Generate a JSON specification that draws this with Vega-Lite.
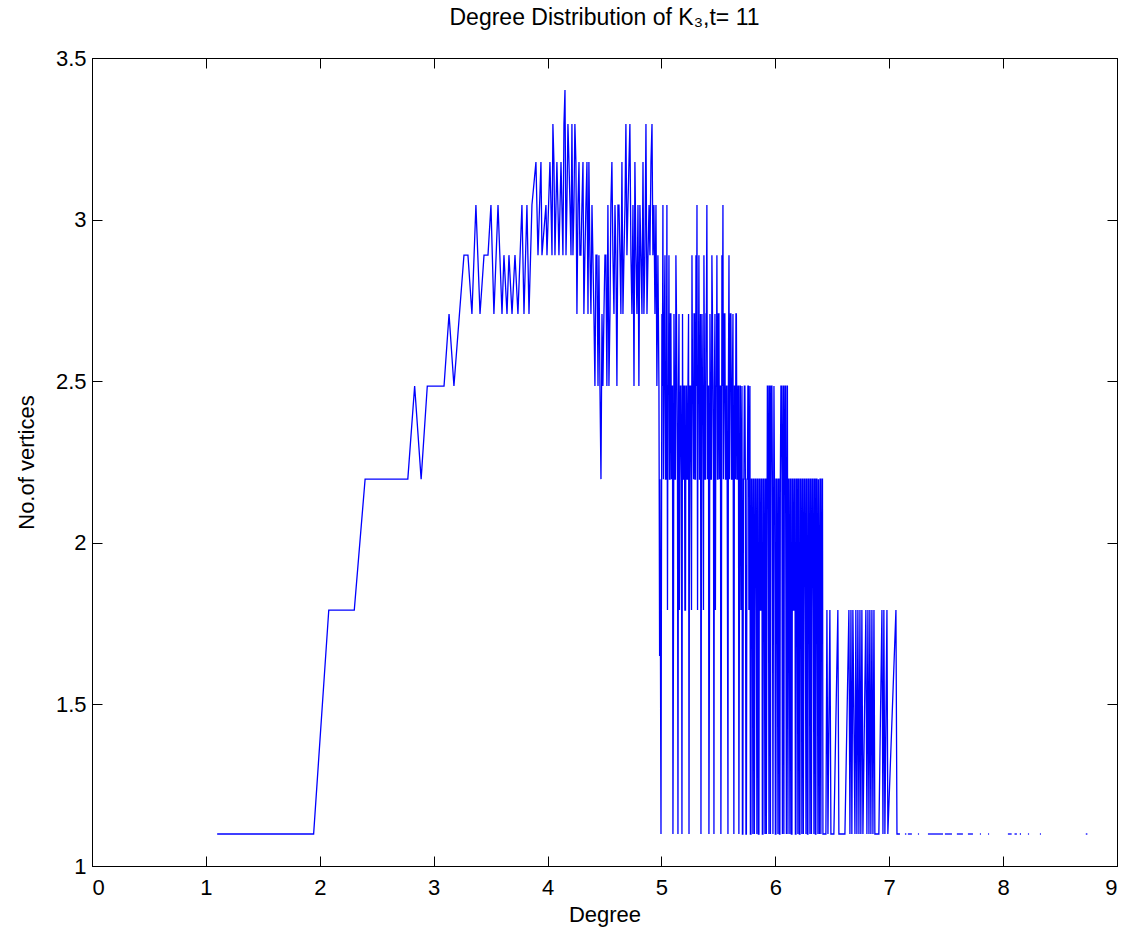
{
  "$schema": "https://vega.github.io/schema/vega-lite/v6.json",
  "width": 1025,
  "height": 808,
  "autosize": {"type": "none"},
  "padding": {"left": 92, "top": 58, "right": 9, "bottom": 67},
  "background": "#ffffff",
  "title": {"text": "Degree Distribution of K₃,t= 11", "font": "Liberation Sans", "fontSize": 23, "fontWeight": "normal", "color": "#000000", "anchor": "middle", "offset": 17},
  "config": {
    "view": {"stroke": "#000000", "strokeWidth": 1},
    "axis": {"grid": false, "domainColor": "#000000", "domainWidth": 1, "tickColor": "#000000", "tickSize": -10, "tickWidth": 1, "labelFont": "Liberation Sans", "labelFontSize": 22, "labelColor": "#000000", "titleFont": "Liberation Sans", "titleFontSize": 22, "titleFontWeight": "normal", "titleColor": "#000000"}
  },
  "datasets": {
    "deg": [
      {"x":1.099,"y":1.099,"g":0},{"x":1.946,"y":1.099,"g":0},{"x":2.079,"y":1.792,"g":0},{"x":2.303,"y":1.792,"g":0},{"x":2.398,"y":2.197,"g":0},{"x":2.773,"y":2.197,"g":0},{"x":2.833,"y":2.485,"g":0},{"x":2.890,"y":2.197,"g":0},{"x":2.944,"y":2.485,"g":0},{"x":3.091,"y":2.485,"g":0},{"x":3.135,"y":2.708,"g":0},{"x":3.178,"y":2.485,"g":0},
      {"x":3.266,"y":2.890,"g":0},{"x":3.301,"y":2.890,"g":0},{"x":3.336,"y":2.708,"g":0},{"x":3.371,"y":3.045,"g":0},{"x":3.407,"y":2.708,"g":0},{"x":3.442,"y":2.890,"g":0},{"x":3.477,"y":2.890,"g":0},{"x":3.503,"y":3.045,"g":0},{"x":3.529,"y":2.708,"g":0},{"x":3.565,"y":3.045,"g":0},{"x":3.600,"y":2.708,"g":0},{"x":3.617,"y":2.890,"g":0},{"x":3.644,"y":2.708,"g":0},{"x":3.661,"y":2.890,"g":0},{"x":3.688,"y":2.708,"g":0},{"x":3.714,"y":2.890,"g":0},{"x":3.740,"y":2.708,"g":0},{"x":3.775,"y":3.045,"g":0},{"x":3.793,"y":2.708,"g":0},{"x":3.819,"y":3.045,"g":0},{"x":3.837,"y":2.708,"g":0},{"x":3.863,"y":3.045,"g":0},{"x":3.898,"y":3.178,"g":0},{"x":3.916,"y":2.890,"g":0},
      {"x":3.942,"y":3.178,"g":0},{"x":3.951,"y":2.890,"g":0},{"x":3.986,"y":3.045,"g":0},{"x":3.995,"y":2.890,"g":0},{"x":4.021,"y":3.178,"g":0},{"x":4.039,"y":2.890,"g":0},{"x":4.047,"y":3.296,"g":0},{"x":4.065,"y":2.890,"g":0},{"x":4.082,"y":3.178,"g":0},{"x":4.091,"y":3.045,"g":0},{"x":4.118,"y":3.178,"g":0},{"x":4.135,"y":2.890,"g":0},{"x":4.153,"y":3.401,"g":0},{"x":4.170,"y":3.045,"g":0},{"x":4.188,"y":3.178,"g":0},{"x":4.206,"y":2.890,"g":0},{"x":4.214,"y":3.296,"g":0},{"x":4.232,"y":3.045,"g":0},{"x":4.249,"y":3.178,"g":0},{"x":4.258,"y":2.708,"g":0},{"x":4.276,"y":3.178,"g":0},{"x":4.293,"y":2.890,"g":0},{"x":4.311,"y":3.178,"g":0},{"x":4.319,"y":2.708,"g":0},{"x":4.337,"y":3.045,"g":0},{"x":4.355,"y":2.708,"g":0},{"x":4.363,"y":3.178,"g":0},{"x":4.381,"y":2.708,"g":0},{"x":4.398,"y":2.890,"g":0},{"x":4.416,"y":2.485,"g":0},{"x":4.425,"y":2.890,"g":0},{"x":4.443,"y":2.485,"g":0},{"x":4.451,"y":2.890,"g":0},{"x":4.469,"y":2.197,"g":0},{"x":4.478,"y":2.708,"g":0},{"x":4.486,"y":2.485,"g":0},{"x":4.504,"y":2.890,"g":0},{"x":4.521,"y":2.485,"g":0},{"x":4.530,"y":3.045,"g":0},{"x":4.548,"y":2.708,"g":0},{"x":4.565,"y":3.178,"g":0},{"x":4.574,"y":2.890,"g":0},{"x":4.592,"y":3.045,"g":0},{"x":4.609,"y":2.485,"g":0},{"x":4.618,"y":3.045,"g":0},{"x":4.636,"y":2.890,"g":0},{"x":4.653,"y":3.178,"g":0},{"x":4.662,"y":2.708,"g":0},{"x":4.680,"y":3.045,"g":0},{"x":4.688,"y":3.296,"g":0},{"x":4.697,"y":2.890,"g":0},{"x":4.715,"y":3.178,"g":0},{"x":4.723,"y":3.296,"g":0},{"x":4.732,"y":2.890,"g":0},{"x":4.750,"y":3.045,"g":0},{"x":4.759,"y":2.485,"g":0},{"x":4.767,"y":3.178,"g":0},{"x":4.785,"y":2.708,"g":0},{"x":4.794,"y":3.045,"g":0},{"x":4.802,"y":2.485,"g":0},{"x":4.820,"y":2.890,"g":0},{"x":4.829,"y":2.708,"g":0},{"x":4.838,"y":3.178,"g":0},{"x":4.855,"y":2.890,"g":0},{"x":4.864,"y":3.296,"g":0},{"x":4.873,"y":2.708,"g":0},{"x":4.891,"y":3.045,"g":0},{"x":4.899,"y":2.890,"g":0},{"x":4.908,"y":3.178,"g":0},{"x":4.917,"y":3.296,"g":0},{"x":4.925,"y":2.890,"g":0},{"x":4.934,"y":3.045,"g":0},{"x":4.943,"y":2.708,"g":0},{"x":4.952,"y":3.045,"g":0},{"x":4.960,"y":2.485,"g":0},{"x":4.969,"y":2.890,"g":0},{"x":4.978,"y":2.485,"g":0},{"x":4.984,"y":1.650,"g":0},{"x":4.987,"y":2.197,"g":0},{"x":4.996,"y":1.099,"g":0},
      {"x":4.030,"y":3.045,"g":0},{"x":4.056,"y":3.178,"g":0},{"x":4.100,"y":2.890,"g":0},{"x":4.126,"y":3.045,"g":0},{"x":4.144,"y":3.296,"g":0},{"x":4.162,"y":2.890,"g":0},{"x":4.179,"y":3.296,"g":0},{"x":4.197,"y":3.045,"g":0},{"x":4.223,"y":2.890,"g":0},{"x":4.240,"y":3.296,"g":0},{"x":4.267,"y":3.045,"g":0},{"x":4.284,"y":2.890,"g":0},{"x":4.302,"y":3.045,"g":0},{"x":4.328,"y":2.890,"g":0},{"x":4.346,"y":3.178,"g":0},{"x":4.372,"y":2.890,"g":0},{"x":4.390,"y":3.045,"g":0},
      {"x":4.407,"y":2.708,"g":0},{"x":4.434,"y":2.890,"g":0},{"x":4.460,"y":2.485,"g":0},{"x":4.495,"y":2.708,"g":0},{"x":4.512,"y":2.890,"g":0},{"x":4.539,"y":2.485,"g":0},
      {"x":4.556,"y":3.045,"g":0},{"x":4.583,"y":2.708,"g":0},{"x":4.600,"y":2.890,"g":0},{"x":4.627,"y":3.045,"g":0},{"x":4.644,"y":2.708,"g":0},{"x":4.671,"y":2.890,"g":0},{"x":4.706,"y":3.045,"g":0},{"x":4.741,"y":2.708,"g":0},{"x":4.776,"y":2.890,"g":0},{"x":4.811,"y":3.045,"g":0},{"x":4.846,"y":2.708,"g":0},{"x":4.882,"y":2.890,"g":0},
      {"x":5.004,"y":2.708,"g":0},{"x":5.013,"y":3.045,"g":0},{"x":5.022,"y":2.485,"g":0},{"x":5.031,"y":2.890,"g":0},{"x":5.040,"y":2.197,"g":0},{"x":5.048,"y":3.045,"g":0},{"x":5.057,"y":2.485,"g":0},{"x":5.066,"y":2.890,"g":0},{"x":5.075,"y":2.197,"g":0},{"x":5.083,"y":2.708,"g":0},{"x":5.092,"y":2.485,"g":0},{"x":5.101,"y":1.099,"g":0},{"x":5.110,"y":2.708,"g":0},{"x":5.119,"y":2.197,"g":0},{"x":5.127,"y":2.890,"g":0},{"x":5.136,"y":2.485,"g":0},{"x":5.145,"y":1.099,"g":0},{"x":5.154,"y":2.708,"g":0},{"x":5.162,"y":2.197,"g":0},{"x":5.171,"y":2.485,"g":0},{"x":5.180,"y":1.099,"g":0},{"x":5.189,"y":2.197,"g":0},{"x":5.198,"y":2.485,"g":0},{"x":5.206,"y":1.792,"g":0},{"x":5.215,"y":2.485,"g":0},{"x":5.224,"y":2.197,"g":0},{"x":5.233,"y":2.485,"g":0},{"x":5.242,"y":1.099,"g":0},{"x":5.250,"y":2.485,"g":0},{"x":5.259,"y":2.197,"g":0},{"x":5.268,"y":2.890,"g":0},{"x":5.277,"y":2.485,"g":0},{"x":5.286,"y":2.708,"g":0},{"x":5.294,"y":2.197,"g":0},{"x":5.303,"y":2.890,"g":0},{"x":5.312,"y":3.045,"g":0},{"x":5.321,"y":2.485,"g":0},{"x":5.329,"y":2.890,"g":0},{"x":5.338,"y":2.197,"g":0},{"x":5.347,"y":1.099,"g":0},{"x":5.356,"y":2.708,"g":0},{"x":5.364,"y":2.485,"g":0},{"x":5.373,"y":2.890,"g":0},{"x":5.382,"y":2.197,"g":0},{"x":5.391,"y":2.708,"g":0},{"x":5.399,"y":3.045,"g":0},{"x":5.408,"y":2.485,"g":0},{"x":5.417,"y":1.099,"g":0},{"x":5.426,"y":2.708,"g":0},{"x":5.435,"y":2.197,"g":0},{"x":5.443,"y":2.890,"g":0},{"x":5.452,"y":2.485,"g":0},{"x":5.461,"y":1.099,"g":0},{"x":5.470,"y":2.708,"g":0},{"x":5.478,"y":2.485,"g":0},{"x":5.487,"y":2.890,"g":0},{"x":5.496,"y":2.197,"g":0},{"x":5.505,"y":2.708,"g":0},{"x":5.514,"y":2.485,"g":0},{"x":5.522,"y":1.099,"g":0},{"x":5.531,"y":2.890,"g":0},{"x":5.540,"y":3.045,"g":0},{"x":5.549,"y":2.485,"g":0},{"x":5.557,"y":2.708,"g":0},{"x":5.566,"y":2.197,"g":0},{"x":5.575,"y":2.485,"g":0},{"x":5.584,"y":1.099,"g":0},{"x":5.593,"y":2.890,"g":0},{"x":5.601,"y":2.485,"g":0},{"x":5.610,"y":2.708,"g":0},{"x":5.619,"y":2.197,"g":0},{"x":5.628,"y":2.708,"g":0},{"x":5.636,"y":1.099,"g":0},{"x":5.645,"y":2.485,"g":0},{"x":5.654,"y":2.708,"g":0},{"x":5.663,"y":2.197,"g":0},{"x":5.672,"y":2.485,"g":0},{"x":5.680,"y":1.099,"g":0},
      {"x":5.008,"y":2.485,"g":0},{"x":5.017,"y":2.197,"g":0},{"x":5.026,"y":2.708,"g":0},{"x":5.035,"y":2.197,"g":0},{"x":5.044,"y":2.485,"g":0},{"x":5.053,"y":1.792,"g":0},{"x":5.062,"y":2.485,"g":0},{"x":5.070,"y":2.197,"g":0},{"x":5.079,"y":2.708,"g":0},{"x":5.088,"y":2.197,"g":0},{"x":5.097,"y":2.485,"g":0},{"x":5.106,"y":1.792,"g":0},{"x":5.114,"y":2.485,"g":0},{"x":5.123,"y":2.197,"g":0},{"x":5.132,"y":2.708,"g":0},{"x":5.141,"y":2.197,"g":0},{"x":5.150,"y":2.485,"g":0},{"x":5.158,"y":1.792,"g":0},{"x":5.167,"y":2.485,"g":0},{"x":5.176,"y":2.197,"g":0},{"x":5.185,"y":2.708,"g":0},{"x":5.194,"y":2.197,"g":0},{"x":5.202,"y":2.485,"g":0},{"x":5.211,"y":1.792,"g":0},{"x":5.220,"y":2.485,"g":0},{"x":5.229,"y":2.197,"g":0},{"x":5.238,"y":2.708,"g":0},{"x":5.246,"y":2.197,"g":0},{"x":5.255,"y":2.485,"g":0},{"x":5.264,"y":1.792,"g":0},{"x":5.273,"y":2.485,"g":0},{"x":5.282,"y":2.197,"g":0},{"x":5.290,"y":2.708,"g":0},{"x":5.299,"y":2.197,"g":0},{"x":5.308,"y":2.485,"g":0},{"x":5.317,"y":1.792,"g":0},{"x":5.325,"y":2.485,"g":0},{"x":5.334,"y":2.197,"g":0},{"x":5.343,"y":2.708,"g":0},{"x":5.352,"y":2.197,"g":0},{"x":5.360,"y":2.485,"g":0},{"x":5.369,"y":1.792,"g":0},{"x":5.378,"y":2.485,"g":0},{"x":5.387,"y":2.197,"g":0},{"x":5.395,"y":2.708,"g":0},{"x":5.404,"y":2.197,"g":0},{"x":5.413,"y":2.485,"g":0},{"x":5.422,"y":1.792,"g":0},{"x":5.430,"y":2.485,"g":0},{"x":5.439,"y":2.197,"g":0},{"x":5.448,"y":2.708,"g":0},{"x":5.457,"y":2.197,"g":0},{"x":5.465,"y":2.485,"g":0},{"x":5.474,"y":1.792,"g":0},{"x":5.483,"y":2.485,"g":0},{"x":5.492,"y":2.197,"g":0},{"x":5.500,"y":2.708,"g":0},{"x":5.509,"y":2.197,"g":0},{"x":5.518,"y":2.485,"g":0},{"x":5.527,"y":1.792,"g":0},{"x":5.535,"y":2.485,"g":0},{"x":5.544,"y":2.197,"g":0},{"x":5.553,"y":2.708,"g":0},{"x":5.562,"y":2.197,"g":0},{"x":5.571,"y":2.485,"g":0},{"x":5.580,"y":1.792,"g":0},{"x":5.588,"y":2.485,"g":0},{"x":5.597,"y":2.197,"g":0},{"x":5.606,"y":2.708,"g":0},{"x":5.615,"y":2.197,"g":0},{"x":5.623,"y":2.485,"g":0},{"x":5.632,"y":1.792,"g":0},{"x":5.641,"y":2.485,"g":0},{"x":5.650,"y":2.197,"g":0},{"x":5.658,"y":2.708,"g":0},{"x":5.667,"y":2.197,"g":0},{"x":5.676,"y":2.485,"g":0},
      {"x":5.689,"y":2.485,"g":0},{"x":5.698,"y":1.792,"g":0},{"x":5.707,"y":2.485,"g":0},{"x":5.715,"y":1.099,"g":0},{"x":5.724,"y":2.197,"g":0},{"x":5.733,"y":2.485,"g":0},{"x":5.742,"y":1.099,"g":0},{"x":5.751,"y":2.197,"g":0},{"x":5.759,"y":2.485,"g":0},{"x":5.768,"y":1.792,"g":0},{"x":5.777,"y":2.485,"g":0},{"x":5.786,"y":1.099,"g":0},{"x":5.794,"y":2.197,"g":0},{"x":5.803,"y":1.099,"g":0},{"x":5.812,"y":2.197,"g":0},{"x":5.821,"y":1.792,"g":0},{"x":5.830,"y":2.197,"g":0},{"x":5.838,"y":1.099,"g":0},{"x":5.847,"y":2.197,"g":0},{"x":5.856,"y":1.099,"g":0},{"x":5.865,"y":2.197,"g":0},{"x":5.874,"y":1.792,"g":0},{"x":5.882,"y":2.197,"g":0},{"x":5.891,"y":1.099,"g":0},{"x":5.900,"y":2.197,"g":0},{"x":5.909,"y":1.099,"g":0},{"x":5.917,"y":2.197,"g":0},{"x":5.926,"y":1.792,"g":0},{"x":5.935,"y":2.485,"g":0},{"x":5.944,"y":1.099,"g":0},{"x":5.953,"y":2.485,"g":0},{"x":5.961,"y":2.197,"g":0},{"x":5.970,"y":2.485,"g":0},{"x":5.979,"y":1.099,"g":0},{"x":5.988,"y":2.485,"g":0},{"x":5.996,"y":2.197,"g":0},{"x":6.005,"y":1.099,"g":0},{"x":6.014,"y":2.197,"g":0},{"x":6.023,"y":1.099,"g":0},{"x":6.032,"y":2.197,"g":0},{"x":6.040,"y":1.099,"g":0},{"x":6.049,"y":2.485,"g":0},{"x":6.058,"y":2.197,"g":0},{"x":6.067,"y":2.485,"g":0},{"x":6.075,"y":1.099,"g":0},{"x":6.084,"y":2.485,"g":0},{"x":6.093,"y":1.792,"g":0},{"x":6.102,"y":2.485,"g":0},{"x":6.111,"y":1.099,"g":0},{"x":6.119,"y":2.197,"g":0},{"x":6.128,"y":1.099,"g":0},
      {"x":5.693,"y":2.485,"g":0},{"x":5.702,"y":2.197,"g":0},{"x":5.711,"y":1.099,"g":0},{"x":5.720,"y":2.197,"g":0},{"x":5.728,"y":2.485,"g":0},{"x":5.737,"y":2.197,"g":0},{"x":5.746,"y":1.099,"g":0},{"x":5.755,"y":2.197,"g":0},{"x":5.764,"y":2.485,"g":0},{"x":5.772,"y":2.197,"g":0},{"x":5.781,"y":1.099,"g":0},{"x":5.790,"y":2.197,"g":0},{"x":5.799,"y":1.792,"g":0},{"x":5.807,"y":2.197,"g":0},{"x":5.816,"y":1.099,"g":0},{"x":5.825,"y":2.197,"g":0},{"x":5.834,"y":1.792,"g":0},{"x":5.843,"y":2.197,"g":0},{"x":5.851,"y":1.099,"g":0},{"x":5.860,"y":2.197,"g":0},{"x":5.869,"y":1.792,"g":0},{"x":5.878,"y":2.197,"g":0},{"x":5.886,"y":1.099,"g":0},{"x":5.895,"y":2.197,"g":0},{"x":5.904,"y":1.792,"g":0},{"x":5.913,"y":2.197,"g":0},{"x":5.921,"y":1.099,"g":0},{"x":5.930,"y":2.485,"g":0},{"x":5.939,"y":2.197,"g":0},{"x":5.948,"y":2.485,"g":0},{"x":5.957,"y":1.099,"g":0},{"x":5.965,"y":2.485,"g":0},{"x":5.974,"y":2.197,"g":0},{"x":5.983,"y":1.792,"g":0},{"x":5.992,"y":2.197,"g":0},{"x":6.000,"y":1.099,"g":0},{"x":6.009,"y":2.197,"g":0},{"x":6.018,"y":1.792,"g":0},{"x":6.027,"y":2.197,"g":0},{"x":6.036,"y":1.099,"g":0},{"x":6.044,"y":2.197,"g":0},{"x":6.053,"y":2.485,"g":0},{"x":6.062,"y":1.099,"g":0},{"x":6.071,"y":2.485,"g":0},{"x":6.079,"y":2.197,"g":0},{"x":6.088,"y":2.485,"g":0},{"x":6.097,"y":1.099,"g":0},{"x":6.106,"y":2.485,"g":0},{"x":6.115,"y":2.197,"g":0},{"x":6.123,"y":1.792,"g":0},
      {"x":6.132,"y":2.197,"g":0},{"x":6.141,"y":1.099,"g":0},{"x":6.150,"y":2.197,"g":0},{"x":6.158,"y":1.792,"g":0},{"x":6.167,"y":2.197,"g":0},{"x":6.176,"y":1.099,"g":0},{"x":6.185,"y":2.197,"g":0},{"x":6.194,"y":1.792,"g":0},{"x":6.202,"y":2.197,"g":0},{"x":6.211,"y":1.099,"g":0},{"x":6.220,"y":2.197,"g":0},{"x":6.229,"y":1.792,"g":0},{"x":6.238,"y":2.197,"g":0},{"x":6.246,"y":1.099,"g":0},{"x":6.255,"y":2.197,"g":0},{"x":6.264,"y":1.792,"g":0},{"x":6.273,"y":2.197,"g":0},{"x":6.282,"y":1.099,"g":0},{"x":6.290,"y":2.197,"g":0},{"x":6.299,"y":1.792,"g":0},{"x":6.308,"y":2.197,"g":0},{"x":6.317,"y":1.099,"g":0},{"x":6.325,"y":2.197,"g":0},{"x":6.334,"y":1.792,"g":0},{"x":6.343,"y":2.197,"g":0},{"x":6.352,"y":1.099,"g":0},{"x":6.360,"y":2.197,"g":0},{"x":6.369,"y":1.792,"g":0},{"x":6.378,"y":2.197,"g":0},{"x":6.387,"y":1.099,"g":0},{"x":6.396,"y":2.197,"g":0},{"x":6.405,"y":1.792,"g":0},{"x":6.414,"y":2.197,"g":0},
      {"x":6.137,"y":2.197,"g":0},{"x":6.146,"y":1.099,"g":0},{"x":6.154,"y":2.197,"g":0},{"x":6.163,"y":1.792,"g":0},{"x":6.172,"y":2.197,"g":0},{"x":6.181,"y":1.099,"g":0},{"x":6.190,"y":2.197,"g":0},{"x":6.198,"y":1.099,"g":0},{"x":6.207,"y":2.197,"g":0},{"x":6.216,"y":1.099,"g":0},{"x":6.225,"y":2.197,"g":0},{"x":6.233,"y":1.099,"g":0},{"x":6.242,"y":2.197,"g":0},{"x":6.251,"y":1.792,"g":0},{"x":6.260,"y":2.197,"g":0},{"x":6.269,"y":1.099,"g":0},{"x":6.277,"y":2.197,"g":0},{"x":6.286,"y":1.099,"g":0},{"x":6.295,"y":2.197,"g":0},{"x":6.304,"y":1.099,"g":0},{"x":6.312,"y":2.197,"g":0},{"x":6.321,"y":1.792,"g":0},{"x":6.330,"y":2.197,"g":0},{"x":6.339,"y":1.099,"g":0},{"x":6.348,"y":2.197,"g":0},{"x":6.356,"y":1.099,"g":0},{"x":6.365,"y":2.197,"g":0},{"x":6.374,"y":1.099,"g":0},{"x":6.383,"y":1.792,"g":0},{"x":6.392,"y":2.197,"g":0},{"x":6.400,"y":1.099,"g":0},{"x":6.409,"y":2.197,"g":0},{"x":6.418,"y":1.099,"g":0},{"x":6.444,"y":1.099,"g":0},{"x":6.453,"y":1.792,"g":0},{"x":6.462,"y":1.099,"g":0},{"x":6.479,"y":1.792,"g":0},{"x":6.488,"y":1.099,"g":0},{"x":6.514,"y":1.099,"g":0},{"x":6.549,"y":1.792,"g":0},{"x":6.558,"y":1.099,"g":0},{"x":6.611,"y":1.099,"g":0},{"x":6.646,"y":1.792,"g":0},{"x":6.655,"y":1.099,"g":0},{"x":6.664,"y":1.792,"g":0},{"x":6.672,"y":1.099,"g":0},{"x":6.681,"y":1.792,"g":0},{"x":6.699,"y":1.099,"g":0},{"x":6.707,"y":1.792,"g":0},{"x":6.716,"y":1.099,"g":0},{"x":6.725,"y":1.792,"g":0},{"x":6.734,"y":1.099,"g":0},{"x":6.743,"y":1.792,"g":0},{"x":6.751,"y":1.099,"g":0},{"x":6.760,"y":1.792,"g":0},{"x":6.769,"y":1.099,"g":0},{"x":6.795,"y":1.792,"g":0},{"x":6.804,"y":1.099,"g":0},{"x":6.813,"y":1.792,"g":0},{"x":6.822,"y":1.099,"g":0},{"x":6.830,"y":1.792,"g":0},{"x":6.839,"y":1.099,"g":0},{"x":6.848,"y":1.792,"g":0},{"x":6.857,"y":1.099,"g":0},{"x":6.866,"y":1.792,"g":0},{"x":6.874,"y":1.099,"g":0},{"x":6.909,"y":1.099,"g":0},{"x":6.936,"y":1.792,"g":0},{"x":6.945,"y":1.099,"g":0},{"x":6.953,"y":1.792,"g":0},{"x":6.962,"y":1.099,"g":0},{"x":6.980,"y":1.792,"g":0},{"x":6.988,"y":1.099,"g":0},{"x":7.059,"y":1.792,"g":0},{"x":7.068,"y":1.099,"g":0},{"x":7.094,"y":1.099,"g":0},
      {"x":7.138,"y":1.099,"g":1},{"x":7.150,"y":1.099,"g":1},
      {"x":7.164,"y":1.099,"g":2},{"x":7.199,"y":1.099,"g":2},
      {"x":7.252,"y":1.099,"g":3},{"x":7.262,"y":1.099,"g":3},
      {"x":7.340,"y":1.099,"g":4},{"x":7.472,"y":1.099,"g":4},
      {"x":7.489,"y":1.099,"g":5},{"x":7.551,"y":1.099,"g":5},
      {"x":7.594,"y":1.099,"g":6},{"x":7.647,"y":1.099,"g":6},
      {"x":7.691,"y":1.099,"g":7},{"x":7.735,"y":1.099,"g":7},
      {"x":7.796,"y":1.099,"g":8},{"x":7.806,"y":1.099,"g":8},
      {"x":7.867,"y":1.099,"g":9},{"x":7.877,"y":1.099,"g":9},
      {"x":8.042,"y":1.099,"g":10},{"x":8.075,"y":1.099,"g":10},
      {"x":8.100,"y":1.099,"g":11},{"x":8.121,"y":1.099,"g":11},
      {"x":8.147,"y":1.099,"g":12},{"x":8.157,"y":1.099,"g":12},
      {"x":8.218,"y":1.099,"g":13},{"x":8.228,"y":1.099,"g":13},
      {"x":8.323,"y":1.099,"g":14},{"x":8.333,"y":1.099,"g":14},
      {"x":8.726,"y":1.099,"g":15},{"x":8.740,"y":1.099,"g":15}
    ],
    "frame": [{"x": 0, "y": 1}, {"x": 9, "y": 3.5}]
  },
  "layer": [
    {
      "data": {"name": "deg"},
      "mark": {"type": "line", "stroke": "#0000ff", "strokeWidth": 1.3, "clip": true},
      "encoding": {
        "x": {"field": "x", "type": "quantitative", "scale": {"domain": [0, 9], "nice": false, "zero": false},
          "axis": {"orient": "bottom", "title": "Degree", "values": [0,1,2,3,4,5,6,7,8,9], "format": "d", "labelPadding": 21, "titlePadding": 6}},
        "y": {"field": "y", "type": "quantitative", "scale": {"domain": [1, 3.5], "nice": false, "zero": false},
          "axis": {"orient": "left", "title": "No.of vertices", "values": [1,1.5,2,2.5,3,3.5], "format": "~g", "labelPadding": 16, "titlePadding": 17}},
        "detail": {"field": "g", "type": "nominal"}
      }
    },
    {
      "data": {"name": "frame"},
      "mark": {"type": "point", "opacity": 0},
      "encoding": {
        "x": {"field": "x", "type": "quantitative", "axis": {"orient": "top", "title": null, "labels": false, "values": [0,1,2,3,4,5,6,7,8,9]}},
        "y": {"field": "y", "type": "quantitative", "axis": {"orient": "right", "title": null, "labels": false, "values": [1,1.5,2,2.5,3,3.5]}}
      }
    }
  ],
  "resolve": {"axis": {"x": "independent", "y": "independent"}}
}
